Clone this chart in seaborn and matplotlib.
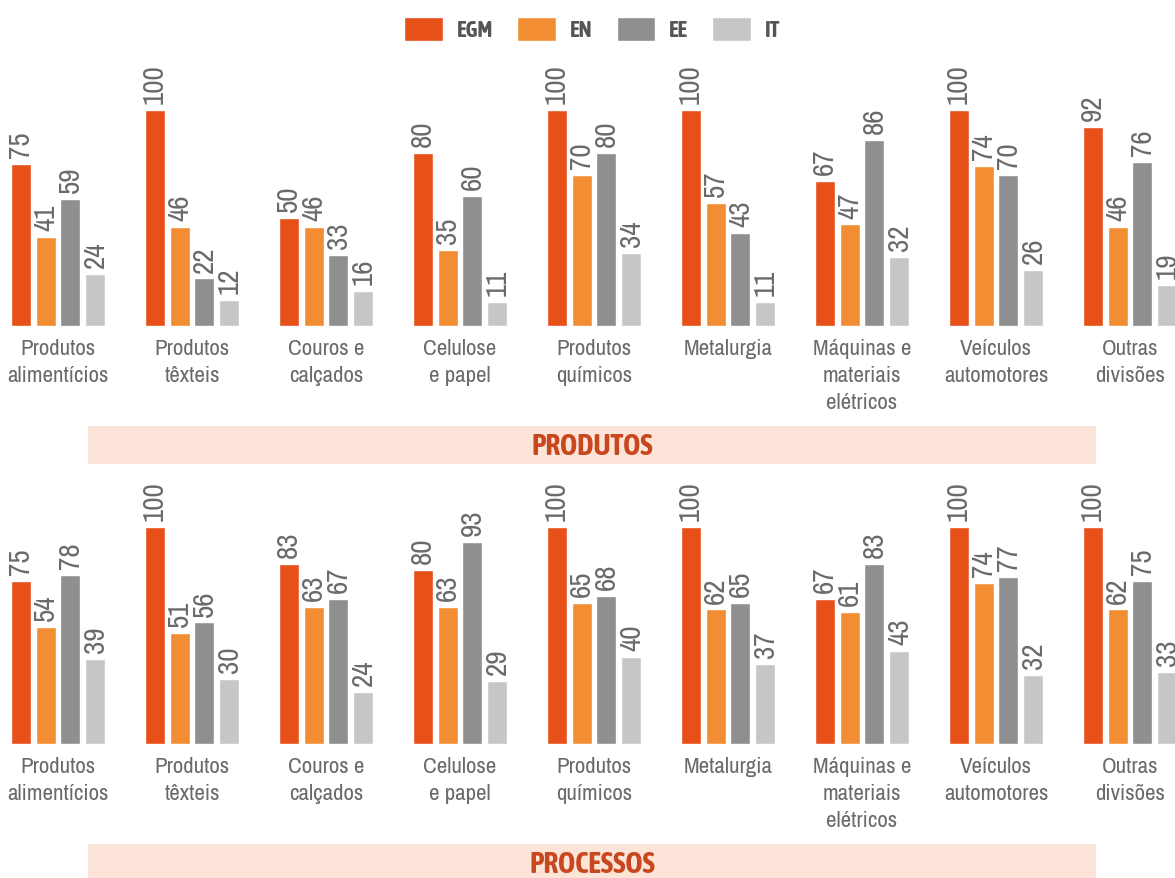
import matplotlib
matplotlib.use("Agg")
import matplotlib.pyplot as plt
from matplotlib import font_manager
from matplotlib.patches import Rectangle
import seaborn as sns
import pandas as pd

divisoes = [
    "Produtos\nalimentícios", "Produtos\ntêxteis", "Couros e\ncalçados",
    "Celulose\ne papel", "Produtos\nquímicos", "Metalurgia",
    "Máquinas e\nmateriais\nelétricos", "Veículos\nautomotores", "Outras\ndivisões",
]
tipos = ["EGM", "EN", "EE", "IT"]
cores = ["#e8501a", "#f28d33", "#8f8f8f", "#c6c6c6"]

produtos_egm = [75, 100, 50, 80, 100, 100, 67, 100, 92]
produtos_en = [41, 46, 46, 35, 70, 57, 47, 74, 46]
produtos_ee = [59, 22, 33, 60, 80, 43, 86, 70, 76]
produtos_it = [24, 12, 16, 11, 34, 11, 32, 26, 19]

processos_egm = [75, 100, 83, 80, 100, 100, 67, 100, 100]
processos_en = [54, 51, 63, 63, 65, 62, 61, 74, 62]
processos_ee = [78, 56, 67, 93, 68, 65, 83, 77, 75]
processos_it = [39, 30, 24, 29, 40, 37, 43, 32, 33]

paineis = {
    "PRODUTOS": [produtos_egm, produtos_en, produtos_ee, produtos_it],
    "PROCESSOS": [processos_egm, processos_en, processos_ee, processos_it],
}

def tabela(series):
    linhas = []
    for tipo, valores in zip(tipos, series):
        for div, v in zip(divisoes, valores):
            linhas.append({"divisao": div, "tipo": tipo, "valor": v})
    return pd.DataFrame(linhas)


def peso(f):
    w = f.weight
    return font_manager.weight_dict.get(w, 400) if isinstance(w, str) else w


# narrow typefaces for the labels; a bold-capable one for headings
fontes = font_manager.fontManager.ttflist
estreitas = [f for f in fontes if "Condensed" in f.name or "Narrow" in f.name]
regular = sorted({f.name for f in estreitas})[:1]
negrito = sorted({f.name for f in estreitas if peso(f) >= 600})[:1]
familia = regular + ["DejaVu Sans"]
familia_negrito = (negrito or regular) + ["DejaVu Sans"]

sns.set_style("white")
plt.rcParams["font.family"] = familia

W, H = 1175, 879
fig = plt.figure(figsize=(W / 100, H / 100), dpi=100)

texto = "#6a6a6a"
faixa = "#fce4d8"
titulo_cor = "#c9471e"

# axes geometry in pixels: (baseline, top of 100, band top, band bottom)
layout = [("PRODUTOS", 327, 111, 427, 465), ("PROCESSOS", 745, 528, 845, 885)]

for i, (nome, base, topo, fy0, fy1) in enumerate(layout):
    ax = fig.add_axes([0, 1 - base / H, 1, (base - topo) / H])
    df = tabela(paineis[nome])
    sns.barplot(data=df, x="divisao", y="valor", hue="tipo", order=divisoes,
                hue_order=tipos, palette=cores, width=0.746, gap=0.2,
                saturation=1, ax=ax, legend=(i == 0))
    ax.set_xlim(-58 / 134, (W - 58) / 134)
    ax.set_ylim(0, 100)
    for c in ax.containers:
        ax.bar_label(c, rotation=90, padding=5, fontsize=21, color=texto,
                     fontweight="light")
    ax.set_xlabel("")
    ax.set_ylabel("")
    ax.set_yticks([])
    ax.tick_params(axis="x", length=0, pad=8.5, labelsize=16.5, labelcolor=texto)
    for lab in ax.get_xticklabels():
        lab.set_linespacing(1.45)
        lab.set_va("top")
        lab.set_fontweight("light")
    sns.despine(ax=ax, left=True, bottom=True)
    ax.patch.set_alpha(0)

    if i == 0:
        sns.move_legend(ax, "center", bbox_to_anchor=(592 / W, 1 - 30 / H),
                        bbox_transform=fig.transFigure, ncol=4, frameon=False,
                        title=None, fontsize=16, handlelength=1.75,
                        handleheight=1.3, handletextpad=0.6, columnspacing=1.1,
                        prop={"family": familia_negrito, "weight": "bold",
                              "size": 16})
        for t in ax.get_legend().get_texts():
            t.set_color("#555555")

    fig.add_artist(Rectangle((88 / W, 1 - fy1 / H), (1096 - 88) / W, (fy1 - fy0) / H,
                             transform=fig.transFigure, facecolor=faixa,
                             edgecolor="none", zorder=0))
    fig.text(592 / W, 1 - (fy0 + 20) / H, nome, ha="center", va="center",
             fontsize=21, fontweight="bold", family=familia_negrito,
             color=titulo_cor)

fig.savefig("out.png", dpi=100)
